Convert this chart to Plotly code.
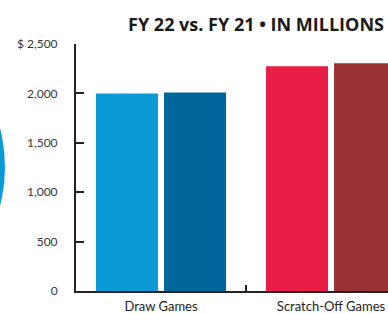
import plotly.graph_objects as go

categories = ["Draw Games", "Scratch-Off Games"]
fy22 = [1998, 2274]
fy21 = [2008, 2305]
tick_vals = [0, 500, 1000, 1500, 2000, 2500]
tick_text = ["0", "500", "1,000", "1,500", "2,000", "$ 2,500"]

W, H = 388, 314
L, T, B = 76, 44, 17

fig = go.Figure()
fig.add_trace(go.Bar(name="FY 22", x=categories, y=fy22,
                     marker=dict(color=["#0a9bd7", "#e91e46"], line=dict(width=0))))
fig.add_trace(go.Bar(name="FY 21", x=categories, y=fy21,
                     marker=dict(color=["#016699", "#993234"], line=dict(width=0))))

pw = W - L
ph = H - T - B
def px(xp):
    return (xp - L) / pw
def py(yp):
    return (H - B - yp) / ph

fig.add_shape(type="circle", xref="paper", yref="paper",
              x0=px(-320), x1=px(5), y0=py(332.5), y1=py(7.5),
              fillcolor="#0a9bd7", line=dict(width=0), layer="below")

fig.update_layout(
    width=W, height=H,
    margin=dict(l=L, r=0, t=T, b=B, pad=0),
    paper_bgcolor="white", plot_bgcolor="white",
    barmode="group", bargap=0.2, bargroupgap=0.088,
    showlegend=False,
    font=dict(family="Lato, Roboto, sans-serif", color="#222"),
    title=dict(text="<b>FY 22 vs. FY 21 • IN MILLIONS</b>",
               x=256 / W, xanchor="center", xref="container",
               y=1 - 25 / H, yanchor="middle", yref="container",
               font=dict(size=18, color="#1a1a1a", family="Open Sans, sans-serif")),
    xaxis=dict(range=[-0.5, 1.335], showline=True, linecolor="#222", linewidth=2,
               ticks="inside", tickson="boundaries", ticklen=6, tickwidth=2, tickcolor="#222",
               tickfont=dict(size=13, color="#222"), showgrid=False, zeroline=False,
               ticklabelstandoff=2, fixedrange=True),
    yaxis=dict(range=[0, 2500], showline=True, linecolor="#222", linewidth=2,
               tickvals=tick_vals, ticktext=tick_text, ticks="inside", ticklen=8,
               tickwidth=2, tickcolor="#222", ticklabelstandoff=14,
               tickfont=dict(size=12, color="#333"), showgrid=False, zeroline=False),
)

fig.write_html("out.html", config={"displayModeBar": False, "staticPlot": True},
               post_script="document.body.style.margin='0';document.body.style.overflow='hidden';")
